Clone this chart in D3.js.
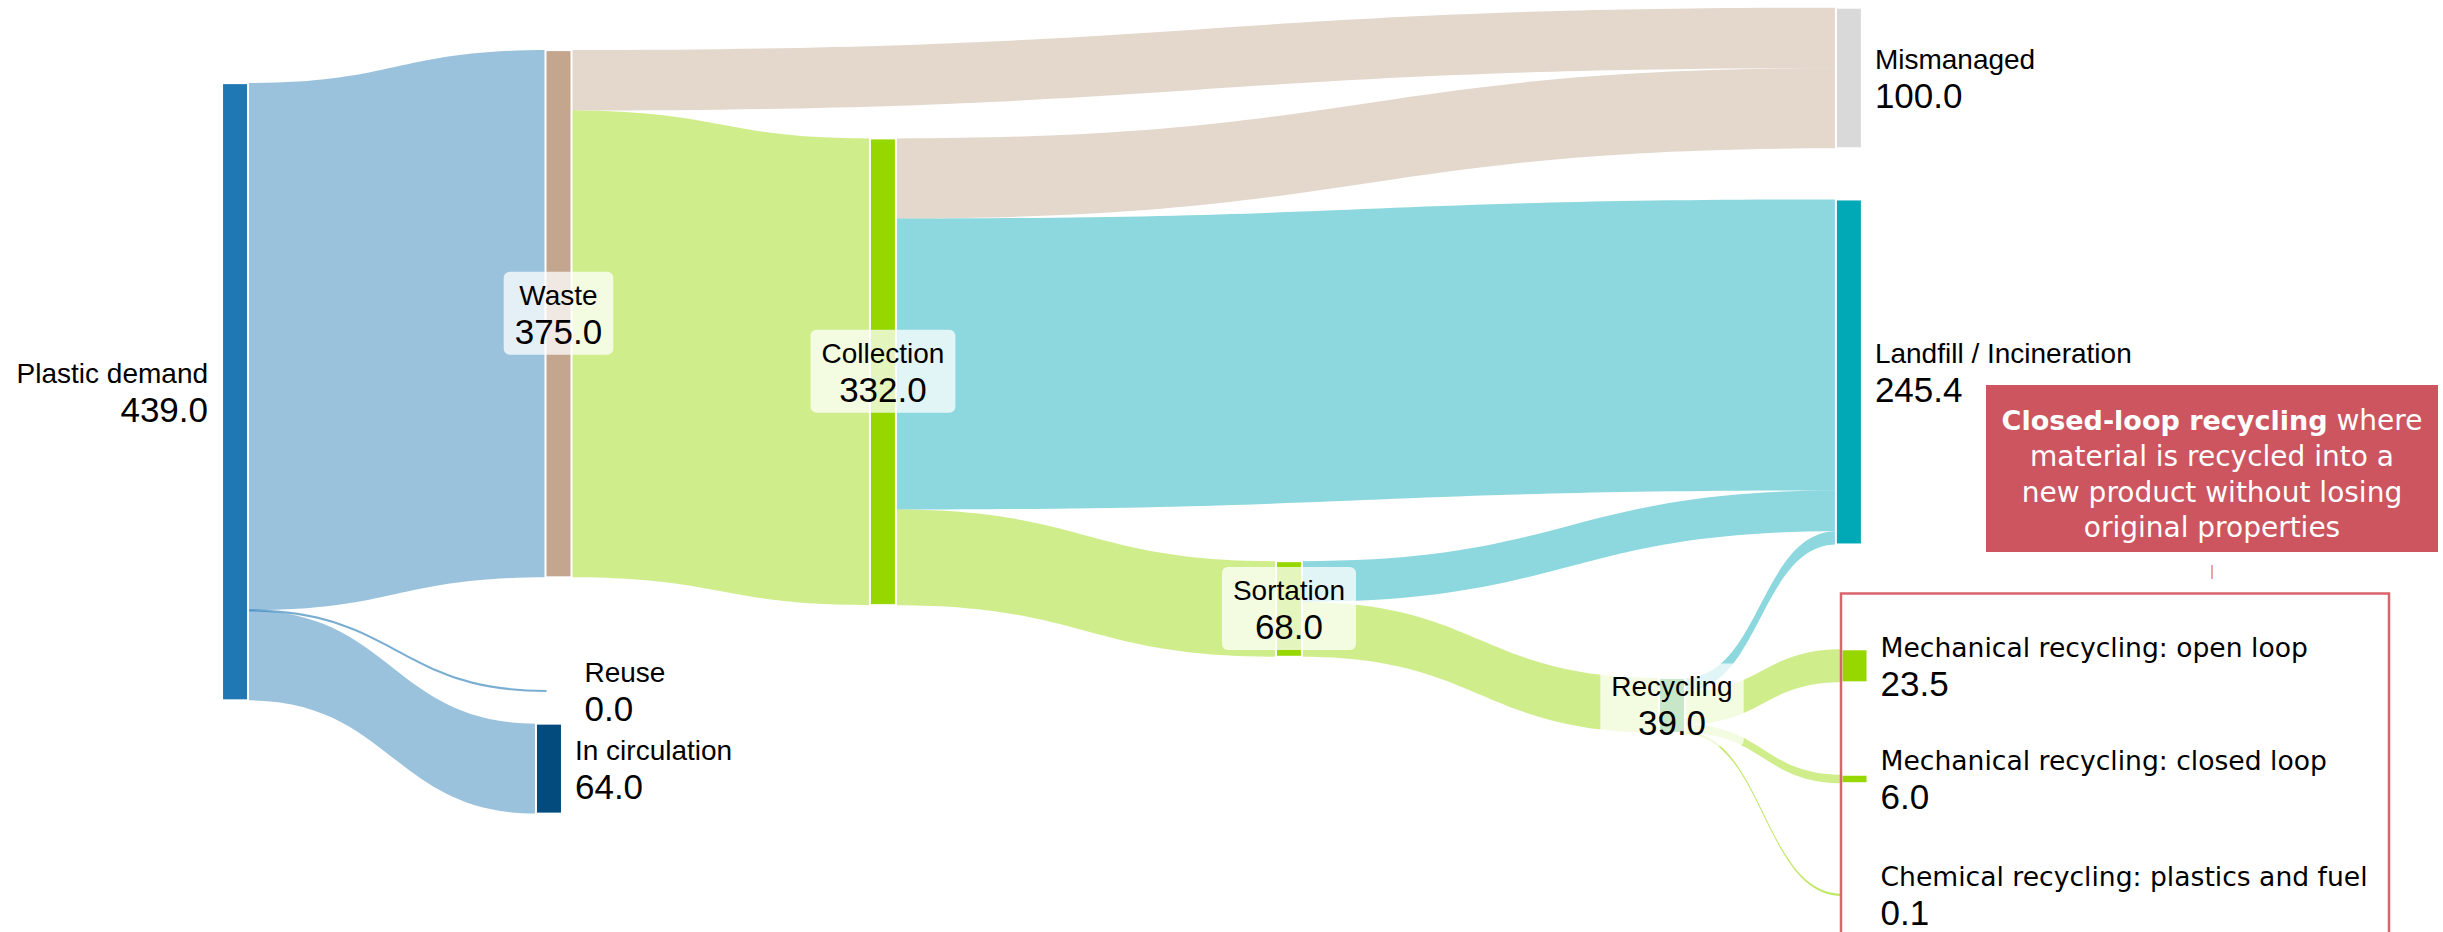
<!DOCTYPE html>
<html>
<head>
<meta charset="utf-8">
<script src="https://cdn.jsdelivr.net/npm/d3@7"></script>
<style>
html,body{margin:0;padding:0;background:#fff;}
svg{display:block;font-family:"Liberation Sans",Arial,Helvetica,sans-serif;}
</style>
</head>
<body>
<svg id="chart" width="2443" height="932"></svg>
<script>
// ---------------- DATA ----------------
const nodeNames = [
  "Plastic demand", "Waste", "Reuse", "In circulation", "Collection", "Sortation",
  "Recycling", "Mismanaged", "Landfill / Incineration",
  "Mechanical recycling: open loop", "Mechanical recycling: closed loop",
  "Chemical recycling: plastics and fuel"
];
const nodeValues = [439.0, 375.0, 0.0, 64.0, 332.0, 68.0, 39.0, 100.0, 245.4, 23.5, 6.0, 0.1];

const linkSources = [0, 0, 0, 1, 1, 4, 4, 4, 5, 5, 6, 6, 6, 6];
const linkTargets = [1, 2, 3, 7, 4, 7, 8, 5, 8, 6, 8, 9, 10, 11];
const linkValues  = [375.0, 0.0, 64.0, 43.0, 332.0, 57.0, 207.0, 68.0, 29.0, 39.0, 9.4, 23.5, 6.0, 0.1];

const noteBold = "Closed-loop recycling";
const noteLines = [" where", "material is recycled into a", "new product without losing", "original properties"];

// ---------------- LAYOUT / STYLE (fixed arrangement, fractions of the canvas) ----------------
const nodeX = [0.0913, 0.2237, 0.2237, 0.2198, 0.3565, 0.5227, 0.6795, 0.7519, 0.7519, 0.7542, 0.7542, 0.7542];
const nodeY = [0.4203, 0.3366, 0.7414, 0.8247, 0.3989, 0.6534, 0.7569, 0.0837, 0.3991, 0.7144, 0.8358, 0.9603];
const nodeColors = ["#1f77b4", "#c4a68f", "#1f77b4", "#034b7d", "#97d700", "#97d700", "#2ca02c",
                    "#d9d9d9", "#00a9b5", "#97d700", "#97d700", "#97d700"];
const labelModes = ["left", "box", "right", "right", "box", "box", "box", "right", "right", "right", "right", "right"];
const labelFonts = ["a", "a", "a", "a", "a", "a", "a", "a", "a", "w", "w", "w"];
const linkColors = ["#1f77b4", "#1f77b4", "#1f77b4", "#c4a68f", "#97d700", "#c4a68f", "#00a9b5",
                    "#97d700", "#00a9b5", "#97d700", "#00a9b5", "#97d700", "#97d700", "#97d700"];

const W = 2443, H = 932;
const NODE_W = 24;
const xPos = d3.scaleLinear().domain([0, 1]).range([0, W]);
const yPos = d3.scaleLinear().domain([0, 1]).range([0, H]);
const thick = d3.scaleLinear().domain([0, 439]).range([0, 617.2]);

const svg = d3.select("#chart");

// nodes
const nodes = nodeNames.map((name, i) => {
  const h = thick(nodeValues[i]);
  const x0 = xPos(nodeX[i]);
  const cy = yPos(nodeY[i]);
  return {i, name, value: nodeValues[i], x0, x1: x0 + NODE_W, y0: cy - h / 2, y1: cy + h / 2, cy,
          color: nodeColors[i], mode: labelModes[i], font: labelFonts[i], outOff: cy - h / 2, inOff: cy - h / 2};
});

// links
const links = linkValues.map((v, i) => {
  const s = nodes[linkSources[i]], t = nodes[linkTargets[i]];
  const w = thick(v);
  const sy = s.outOff, ty = t.inOff;
  s.outOff += w; t.inOff += w;
  return {s, t, v, w, sy, ty, color: linkColors[i]};
});

function ribbon(l) {
  const minW = 2.2;
  const wd = Math.max(l.w, minW);
  const adj = (wd - l.w) / 2;
  const sy = l.sy - adj, ty = l.ty - adj;
  const xa = l.s.x1, xb = l.t.x0;
  const xm = (xa + xb) / 2;
  const p = d3.path();
  p.moveTo(xa, sy);
  p.bezierCurveTo(xm, sy, xm, ty, xb, ty);
  p.lineTo(xb, ty + wd);
  p.bezierCurveTo(xm, ty + wd, xm, sy + wd, xa, sy + wd);
  p.closePath();
  return p.toString();
}

svg.append("g").attr("class", "links")
  .selectAll("path").data(links).join("path")
  .attr("d", ribbon)
  .attr("fill", d => d.color)
  .attr("fill-opacity", d => d.w < 2.2 ? 0.6 : 0.45);

svg.append("g").attr("class", "nodes")
  .selectAll("rect").data(nodes.filter(d => d.value > 0)).join("rect")
  .attr("x", d => d.x0 - 1)
  .attr("width", NODE_W + 2)
  .attr("y", d => d.y0)
  .attr("height", d => Math.max(d.y1 - d.y0, 2))
  .attr("fill", d => d.color)
  .attr("stroke", "#fff")
  .attr("stroke-width", 2);

// labels
const NAME_FS = 28, VAL_FS = 35;
const lbl = svg.append("g").attr("class", "labels");
nodes.forEach(d => {
  const g = lbl.append("g");
  let x, anchor;
  if (d.mode === "left") { x = d.x0 - 15; anchor = "end"; }
  else if (d.mode === "right") { x = d.x1 + 14; anchor = "start"; }
  else { x = (d.x0 + d.x1) / 2; anchor = "middle"; }
  const box = d.mode === "box" ? g.append("rect") : null;
  const t1 = g.append("text").attr("x", x).attr("y", d.cy - 9)
    .attr("text-anchor", anchor).attr("fill", "#000").text(d.name);
  if (d.font === "w") {
    t1.attr("font-family", "'DejaVu Sans', Verdana, sans-serif").attr("font-size", 26.6);
  } else {
    t1.attr("font-size", NAME_FS);
  }
  const t2 = g.append("text").attr("x", x).attr("y", d.cy + 30)
    .attr("text-anchor", anchor).attr("font-size", VAL_FS).attr("fill", "#000").text(d.value.toFixed(1));
  if (box) {
    const mw = Math.max(t1.node().getComputedTextLength(), t2.node().getComputedTextLength());
    box.attr("x", x - mw / 2 - 11).attr("width", mw + 22)
      .attr("y", d.cy - 42).attr("height", 83)
      .attr("rx", 6).attr("fill", "#fff").attr("fill-opacity", 0.74);
  }
});

// annotation
const note = svg.append("g").attr("class", "note");
note.append("rect").attr("x", 1986).attr("y", 385).attr("width", 452).attr("height", 167).attr("fill", "#cc5560");
const noteText = note.append("text").attr("x", 2212).attr("text-anchor", "middle")
  .attr("font-family", "'DejaVu Sans', sans-serif").attr("font-size", 28).attr("fill", "#fff");
const first = noteText.append("tspan").attr("x", 2212).attr("y", 430);
first.append("tspan").attr("font-weight", "bold").attr("font-size", 27).text(noteBold);
first.append("tspan").text(noteLines[0]);
noteLines.slice(1).forEach((line, i) => {
  noteText.append("tspan").attr("x", 2212).attr("y", 466 + i * 35.5).text(line);
});
note.append("line").attr("x1", 2212).attr("x2", 2212).attr("y1", 565).attr("y2", 579)
  .attr("stroke", "#e0868c").attr("stroke-width", 1.5);
note.append("rect").attr("x", 1841).attr("y", 593.5).attr("width", 548).attr("height", 360)
  .attr("fill", "none").attr("stroke", "#d9646b").attr("stroke-width", 2.5);
</script>
</body>
</html>
